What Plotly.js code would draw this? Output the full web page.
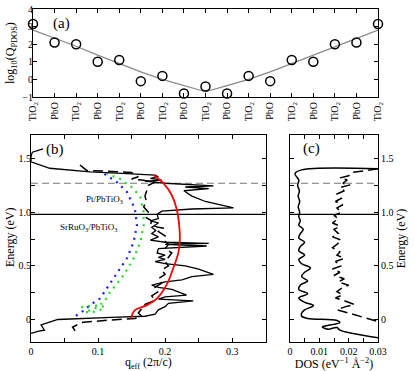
<!DOCTYPE html>
<html>
<head>
<meta charset="utf-8">
<script src="https://cdn.plot.ly/plotly-3.0.1.min.js"></script>
<style>
  html, body { margin: 0; padding: 0; background: #fff; }
  #chart { width: 415px; height: 371px; }
</style>
</head>
<body>
<div id="chart"></div>
<script>
// panel (a): layer-resolved Q_PDOS
const layers = ["TiO<sub>2</sub>", "PbO", "TiO<sub>2</sub>", "PbO", "TiO<sub>2</sub>", "PbO", "TiO<sub>2</sub>", "PbO", "TiO<sub>2</sub>",
                "PbO", "TiO<sub>2</sub>", "PbO", "TiO<sub>2</sub>", "PbO", "TiO<sub>2</sub>", "PbO", "TiO<sub>2</sub>"];
const logQ = [3.15, 2.1, 2.0, 1.0, 1.1, -0.1, 0.2, -0.8, -0.4, -0.8, 0.2, -0.1, 1.1, 1.0, 2.0, 2.1, 3.15];
const logQFit = [2.8, 2.35, 1.88, 1.38, 0.9, 0.43, 0.0, -0.35, -0.7, -0.35, 0.0, 0.43, 0.9, 1.38, 1.88, 2.35, 2.8];

// panel (b): q_eff versus energy
const qSolid = [0.018, 0.002, 0.0, 0.0, 0.028, 0.088, 0.143, 0.185, 0.19, 0.178, 0.195, 0.17, 0.2, 0.272, 0.23, 0.265, 0.228,
                0.24, 0.26, 0.302, 0.24, 0.195, 0.188, 0.19, 0.178, 0.19, 0.18, 0.186, 0.18, 0.19, 0.178, 0.2, 0.265, 0.2,
                0.262, 0.21, 0.19, 0.188, 0.2, 0.19, 0.2, 0.185, 0.2, 0.23, 0.25, 0.272, 0.24, 0.225, 0.2, 0.18, 0.19, 0.21,
                0.232, 0.2, 0.19, 0.242, 0.22, 0.205, 0.2, 0.19, 0.185, 0.17, 0.12, 0.068, 0.04, 0.03, 0.015, 0.02, 0.01, 0.0];
const eSolid = [1.59, 1.56, 1.52, 1.47, 1.41, 1.376, 1.36, 1.345, 1.33, 1.315, 1.30, 1.29, 1.27, 1.245, 1.235, 1.22, 1.2,
                1.15, 1.1, 1.04, 1.03, 1.01, 0.98, 0.94, 0.92, 0.9, 0.86, 0.83, 0.8, 0.77, 0.74, 0.72, 0.71, 0.70,
                0.685, 0.67, 0.66, 0.62, 0.6, 0.58, 0.56, 0.54, 0.52, 0.5, 0.47, 0.42, 0.4, 0.37, 0.35, 0.32, 0.3, 0.28,
                0.227, 0.21, 0.19, 0.174, 0.16, 0.15, 0.12, 0.09, 0.05, 0.03, 0.02, 0.01, 0.0, -0.02, -0.05, -0.1, -0.11, -0.13];

const qDashed = [0.073, 0.083, 0.12, 0.15, 0.16, 0.15, 0.165, 0.185, 0.175, 0.172, 0.17, 0.172, 0.168, 0.175, 0.172, 0.18,
                 0.178, 0.19, 0.198, 0.19, 0.2, 0.198, 0.205, 0.2, 0.21, 0.205, 0.2, 0.205, 0.195, 0.2, 0.19, 0.195, 0.185,
                 0.19, 0.18, 0.185, 0.17, 0.165, 0.16, 0.165, 0.155, 0.118, 0.078, 0.062, 0.065, 0.07];
const eDashed = [1.44, 1.39, 1.38, 1.37, 1.33, 1.31, 1.30, 1.28, 1.25, 1.2, 1.15, 1.1, 1.05, 1.0, 0.95, 0.92,
                 0.88, 0.86, 0.85, 0.82, 0.78, 0.74, 0.7, 0.66, 0.62, 0.58, 0.54, 0.5, 0.46, 0.42, 0.38, 0.34, 0.3,
                 0.26, 0.22, 0.18, 0.14, 0.1, 0.06, 0.03, 0.01, -0.006, -0.025, -0.07, -0.1, -0.146];

const qRed = [0.149, 0.155, 0.173, 0.188, 0.202, 0.212, 0.22, 0.222, 0.221, 0.217, 0.21, 0.198, 0.183];
const eRed = [0.009, 0.087, 0.134, 0.196, 0.32, 0.475, 0.63, 0.755, 0.88, 1.034, 1.158, 1.267, 1.345];

const qBlue = [0.067, 0.078, 0.088, 0.103, 0.113, 0.123, 0.133, 0.143, 0.153, 0.158, 0.155, 0.143, 0.128, 0.115, 0.105];
const eBlue = [0.034, 0.08, 0.134, 0.196, 0.29, 0.38, 0.47, 0.57, 0.72, 0.88, 1.03, 1.19, 1.28, 1.33, 1.376];

const qGreen = [0.075, 0.09, 0.105, 0.11, 0.1, 0.09, 0.08, 0.095, 0.11, 0.118, 0.128, 0.138, 0.153, 0.163, 0.168, 0.168,
                0.163, 0.153, 0.133, 0.113];
const eGreen = [0.115, 0.13, 0.13, 0.11, 0.08, 0.065, 0.07, 0.1, 0.17, 0.258, 0.33, 0.413, 0.568, 0.72, 0.88, 1.0,
                1.14, 1.22, 1.31, 1.36];

// panel (c): density of states
const dosSolid = [0.03, 0.0215, 0.017, 0.016, 0.013, 0.011, 0.014, 0.017, 0.016, 0.006, 0.004, 0.004, 0.005, 0.008, 0.005,
                  0.003, 0.006, 0.003, 0.0035, 0.006, 0.004, 0.005, 0.007, 0.004, 0.003, 0.005, 0.003, 0.0035, 0.005,
                  0.003, 0.0035, 0.0045, 0.003, 0.0035, 0.003, 0.0033, 0.0028, 0.0033, 0.0028, 0.0032, 0.0026, 0.003,
                  0.0017, 0.004, 0.03];
const eDosSolid = [-0.17, -0.13, -0.1, -0.075, -0.09, -0.07, -0.05, -0.03, -0.01, 0.01, 0.03, 0.06, 0.09, 0.13, 0.16,
                   0.2, 0.24, 0.28, 0.32, 0.36, 0.4, 0.44, 0.48, 0.52, 0.56, 0.6, 0.64, 0.68, 0.72,
                   0.76, 0.8, 0.84, 0.88, 0.92, 0.96, 1.0, 1.05, 1.1, 1.15, 1.2, 1.25, 1.3,
                   1.36, 1.395, 1.405];

const dosDashed = [0.03, 0.025, 0.021, 0.02, 0.017, 0.0195, 0.018, 0.0205, 0.017, 0.0185, 0.016, 0.0175, 0.0155, 0.018,
                   0.016, 0.0175, 0.015, 0.0165, 0.0145, 0.017, 0.015, 0.0165, 0.0145, 0.0175, 0.016, 0.0145, 0.017,
                   0.016, 0.0185, 0.0155, 0.0175, 0.0145, 0.017, 0.015, 0.0185, 0.0165, 0.02, 0.0175, 0.016, 0.018,
                   0.0155, 0.019, 0.022, 0.019, 0.016, 0.02, 0.024, 0.03];
const eDosDashed = [1.405, 1.385, 1.37, 1.34, 1.32, 1.30, 1.27, 1.255, 1.23, 1.2, 1.17, 1.13, 1.1, 1.07,
                    1.04, 1.0, 0.97, 0.94, 0.9, 0.87, 0.84, 0.8, 0.77, 0.74, 0.7, 0.67, 0.63,
                    0.6, 0.57, 0.54, 0.5, 0.47, 0.44, 0.41, 0.38, 0.35, 0.32, 0.29, 0.26, 0.23,
                    0.2, 0.17, 0.14, 0.12, 0.09, 0.06, 0.03, -0.02];

// reference energies (eV)
const levelSro = 0.98;
const levelPt = 1.27;

const serif = "Liberation Serif, Times New Roman, serif";
const idx = layers.map((_, i) => i);

const hline = (xa, ya, xr, e, color, dash) => ({
    x: xr, y: [e, e], xaxis: xa, yaxis: ya, type: "scatter", mode: "lines",
    line: { color, width: 1.2, dash }, hoverinfo: "skip"
});

const traces = [
    { x: idx, y: logQFit, type: "scatter", mode: "lines", line: { color: "#888", width: 1.2 } },
    { x: idx, y: logQ, type: "scatter", mode: "markers", cliponaxis: false,
      marker: { symbol: "circle-open", size: 9, color: "#000", line: { width: 1.5, color: "#000" } } },
    // carriers for the free label axes on the left of (a) and (b)
    { x: idx, y: logQ, xaxis: "x", yaxis: "y4", type: "scatter", mode: "markers", marker: { opacity: 0 }, hoverinfo: "skip" },
    { x: qSolid, y: eSolid, xaxis: "x2", yaxis: "y5", type: "scatter", mode: "markers", marker: { opacity: 0 }, hoverinfo: "skip" },

    hline("x2", "y2", [0, 0.35], levelSro, "#000", "solid"),
    hline("x2", "y2", [0, 0.35], levelPt, "#777", "7px,4px"),
    hline("x3", "y3", [0, 0.03], levelSro, "#000", "solid"),
    hline("x3", "y3", [0, 0.03], levelPt, "#777", "7px,4px"),

    { x: qBlue, y: eBlue, xaxis: "x2", yaxis: "y2", type: "scatter", mode: "lines",
      line: { color: "#1a1aff", width: 2.2, dash: "2px,5px" } },
    { x: qGreen, y: eGreen, xaxis: "x2", yaxis: "y2", type: "scatter", mode: "lines",
      line: { color: "#22dd22", width: 2.2, dash: "2px,5px" } },
    { x: qDashed, y: eDashed, xaxis: "x2", yaxis: "y2", type: "scatter", mode: "lines",
      line: { color: "#000", width: 1.5, dash: "10px,5px" } },
    { x: qSolid, y: eSolid, xaxis: "x2", yaxis: "y2", type: "scatter", mode: "lines",
      line: { color: "#000", width: 1.3 } },
    { x: qRed, y: eRed, xaxis: "x2", yaxis: "y2", type: "scatter", mode: "lines",
      line: { color: "#ff0000", width: 1.8, shape: "spline" } },

    { x: dosDashed, y: eDosDashed, xaxis: "x3", yaxis: "y3", type: "scatter", mode: "lines",
      line: { color: "#000", width: 1.5, dash: "10px,5px" } },
    { x: dosSolid, y: eDosSolid, xaxis: "x3", yaxis: "y3", type: "scatter", mode: "lines",
      line: { color: "#000", width: 1.5, shape: "spline" } }
];

const frame = {
    showline: true, linecolor: "#000", linewidth: 1, mirror: "ticks",
    ticks: "inside", ticklen: 4, tickcolor: "#000", showgrid: false, zeroline: false,
    tickfont: { family: serif, size: 10, color: "#000" }
};

// plot area spans x 30..378 px and y 9..342 px of the 415x371 page
const px = x => (x - 30) / 348;
const py = y => 1 - (y - 9) / 333;
const note = (text, x, y, size, angle) => ({
    text, xref: "paper", yref: "paper", x: px(x), y: py(y), showarrow: false,
    xanchor: "center", yanchor: "middle", textangle: angle || 0,
    font: { family: serif, size, color: "#000" }
});
const labelAxis = (over, pos, extra) => Object.assign({
    overlaying: over, anchor: "free", position: pos, side: "left",
    showline: false, ticks: "", showgrid: false, zeroline: false, ticklabeloverflow: "allow",
    tickfont: { family: serif, size: 10, color: "#000" }
}, extra);

const layout = {
    width: 415, height: 371,
    margin: { l: 30, r: 37, t: 9, b: 29 },
    showlegend: false,
    xaxis: Object.assign({}, frame, {
        domain: [px(33), 1], anchor: "y", range: [0, 16],
        tickvals: idx, ticktext: layers, tickangle: -90, tickfont: { family: serif, size: 10, color: "#000" }
    }),
    yaxis: Object.assign({}, frame, {
        domain: [py(97), 1], anchor: "x", range: [-1, 4], dtick: 1, showticklabels: false
    }),
    yaxis4: labelAxis("y", px(33), { range: [-1, 4], dtick: 1 }),
    xaxis2: Object.assign({}, frame, {
        domain: [px(31), px(265.7)], anchor: "y2", range: [0, 0.35],
        tickvals: [0, 0.1, 0.2, 0.3], ticktext: ["0", "0.1", "0.2", "0.3"],
        minor: { dtick: 0.05, ticks: "inside", ticklen: 4, tickcolor: "#000" },
        title: { text: "q<sub>eff</sub> (2π/c)", font: { family: serif, size: 12, color: "#000" }, standoff: 4 }
    }),
    yaxis2: Object.assign({}, frame, {
        domain: [0, py(135)], anchor: "x2", range: [-0.21, 1.72],
        tickvals: [0, 0.5, 1, 1.5], showticklabels: false,
        minor: { dtick: 0.25, ticks: "inside", ticklen: 4, tickcolor: "#000" }
    }),
    yaxis5: labelAxis("y2", px(31), {
        range: [-0.21, 1.72], tickvals: [0, 0.5, 1, 1.5], ticktext: ["0", "0.5", "1.0", "1.5"]
    }),
    xaxis3: Object.assign({}, frame, {
        domain: [px(290), 1], anchor: "y3", range: [0, 0.03],
        tickvals: [0, 0.01, 0.02, 0.03], ticktext: ["0", "0.01", "0.02", "0.03"],
        minor: { dtick: 0.005, ticks: "inside", ticklen: 4, tickcolor: "#000" },
        title: { text: "DOS (eV<sup>−1</sup> Å<sup>−2</sup>)", font: { family: serif, size: 12, color: "#000" }, standoff: 4 }
    }),
    yaxis3: Object.assign({}, frame, {
        domain: [0, py(135)], anchor: "x3", side: "right", range: [-0.21, 1.72],
        tickvals: [0, 0.5, 1, 1.5], ticktext: ["0", "0.5", "1.0", "1.5"],
        minor: { dtick: 0.25, ticks: "inside", ticklen: 4, tickcolor: "#000" },
        title: { text: "Energy (eV)", font: { family: serif, size: 12, color: "#000" }, standoff: 4 }
    }),
    annotations: [
        note("log<sub>10</sub>(Q<sub>PDOS</sub>)", 11, 53, 12, -90),
        note("Energy (eV)", 10, 238, 12, -90),
        note("(a)", 61, 24, 15),
        note("(b)", 55, 149, 15),
        note("(c)", 311, 148, 15),
        note("Pt/PbTiO<sub>3</sub>", 104, 199, 9),
        note("SrRuO<sub>3</sub>/PbTiO<sub>3</sub>", 89, 227, 9)
    ]
};

Plotly.newPlot("chart", traces, layout, { staticPlot: true });
</script>
</body>
</html>
